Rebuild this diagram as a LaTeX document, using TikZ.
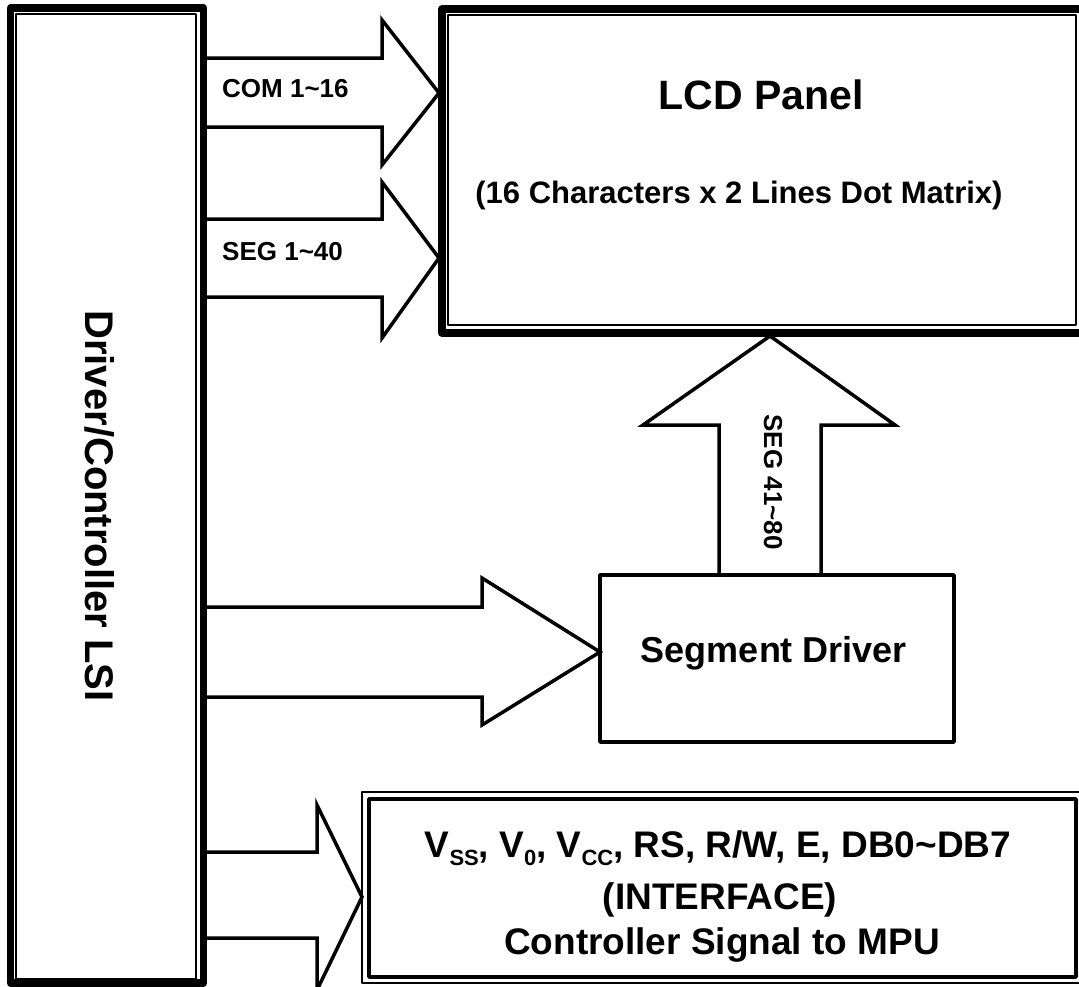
\documentclass[tikz,border=0pt]{standalone}
\usepackage{fontspec}
\setmainfont{Liberation Sans}
\usetikzlibrary{calc}
\newcommand{\sbs}[1]{\raisebox{-0.22em}{\fontsize{22}{22}\selectfont #1}}
\begin{document}
\begin{tikzpicture}[x=1pt,y=-1pt, line join=round,
  thickbox/.style={draw, line width=7.5pt, inner sep=0pt, outer sep=0pt, rectangle},
  midbox/.style={draw, line width=3.5pt, inner sep=0pt, outer sep=0pt, rectangle},
  thinbox/.style={draw, line width=2pt, inner sep=0pt, outer sep=0pt, rectangle},
  thinline/.style={line width=1.5pt},
  blockarrow/.style={draw, line width=3.5pt, line join=miter},
  lbl/.style={inner sep=0pt, anchor=base},
  fsmall/.style={font=\fontsize{26}{26}\selectfont\bfseries},
  fmid/.style={font=\fontsize{36}{36}\selectfont\bfseries},
  fif/.style={font=\fontsize{37}{37}\selectfont\bfseries}
]
\useasboundingbox (0,0) rectangle (1079,986);

% boxes
\node[thickbox, minimum width=193pt, minimum height=975pt] (lsi) at (107,495.5) {};
\draw[thinline] ($(lsi.north west)+(5.5,6)$) rectangle ($(lsi.south east)+(-7.5,-4)$);

\node[thickbox, line width=8pt, minimum width=642pt, minimum height=324pt] (lcd) at (763,171) {};
\draw[thinline] ($(lcd.north west)+(6,6)$) rectangle ($(lcd.south east)+(-8,-8)$);

\node[midbox, minimum width=354pt, minimum height=167pt] (seg) at (777,658.5) {};

\node[thinbox, minimum width=724pt, minimum height=191pt] (iface) at (724,887.5) {};
\draw[line width=3.5pt] ($(iface.north west)+(7,7)$) rectangle ($(iface.south east)+(-10,-6)$);

% block arrows
\draw[blockarrow] (lsi.east |- 0,58) -- (382,58) -- (382,20)
  -- ($(lcd.west |- 0,93)+(-3,0)$) -- (382,165) -- (382,127) -- (lsi.east |- 0,127);
\draw[blockarrow] (lsi.east |- 0,219) -- (382,219) -- (382,182)
  -- ($(lcd.west |- 0,258)+(-3,0)$) -- (382,338) -- (382,297) -- (lsi.east |- 0,297);
\draw[blockarrow] (lsi.east |- 0,607) -- (482,607) -- (482,578)
  -- (seg.west |- 0,652) -- (482,725) -- (482,697) -- (lsi.east |- 0,697);
\draw[blockarrow] (lsi.east |- 0,852) -- (317,852) -- (317,805)
  -- (iface.west |- 0,897) -- (317,990) -- (317,938) -- (lsi.east |- 0,938);
\draw[blockarrow] (seg.north -| 719,0) -- (719,425) -- (643,425)
  -- ($(lcd.south -| 770,0)+(0,3)$) -- (895,425) -- (821,425) -- (seg.north -| 821,0);

% labels
\node[rotate=-90, inner sep=0pt, font=\fontsize{40}{40}\selectfont\bfseries] (lsitxt) at (100,506) {Driver/Controller LSI};
\node[lbl, fsmall, anchor=base west] (comtxt) at (222,97) {COM 1\textasciitilde 16};
\node[lbl, fsmall, anchor=base west] (segtxt) at (222,260) {SEG 1\textasciitilde 40};
\node[rotate=-90, inner sep=0pt, font=\fontsize{26}{26}\selectfont\bfseries] (seg2txt) at (773,482) {SEG 41\textasciitilde 80};
\node[lbl, font=\fontsize{41}{41}\selectfont\bfseries] (lcdtxt) at (761,109) {LCD Panel};
\node[lbl, font=\fontsize{31}{31}\selectfont\bfseries] (lcdsub) at (739,203) {(16 Characters x 2 Lines Dot Matrix)};
\node[lbl, fmid] (segdrv) at (774,662) {Segment Driver};
\node[lbl, fif] (if1) at (718,857) {V\sbs{SS}, V\sbs{0}, V\sbs{CC}, RS, R/W, E, DB0\textasciitilde DB7};
\node[lbl, fif] (if2) at (720,909) {(INTERFACE)};
\node[lbl, fif] (if3) at (722,954) {Controller Signal to MPU};
\end{tikzpicture}
\end{document}
